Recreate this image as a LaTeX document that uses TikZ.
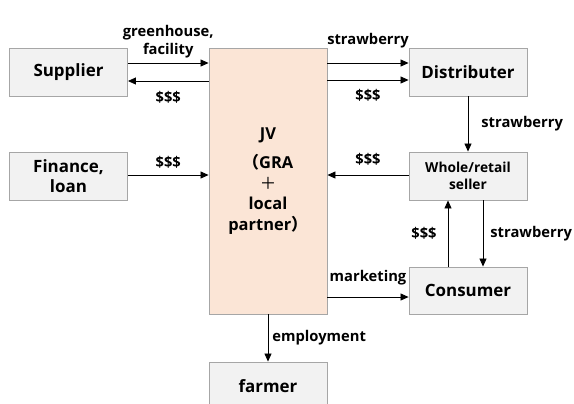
\documentclass[tikz,border=0pt]{standalone}
\usepackage{fontspec}
\setmainfont{Open Sans}
\newfontfamily\cjk{Noto Sans CJK JP}
\usetikzlibrary{arrows.meta}
\definecolor{boxfill}{HTML}{F2F2F2}
\definecolor{boxline}{HTML}{A6A6A6}
\definecolor{jvfill}{HTML}{FBE5D6}
\begin{document}
\begin{tikzpicture}[x=1bp,y=-1bp,
  box/.style={draw=boxline, fill=boxfill, line width=0.9bp,
    minimum width=118bp, minimum height=48bp, inner sep=0pt, align=center,
    font=\bfseries\fontsize{17}{20}\selectfont},
  lbl/.style={font=\bfseries\fontsize{14.8}{18}\selectfont, inner sep=2bp, align=center},
  arr/.style={-{Triangle[length=8bp,width=7bp]}, line width=0.8bp}]
\useasboundingbox (0,0) rectangle (574,403);

% parties
\node[box] (sup) at (68.5,72) {Supplier};
\node[box] (fin) at (68.5,176) {Finance,\\loan};
\node[box, fill=jvfill, minimum height=266bp, font=\bfseries\fontsize{16.5}{20.5}\selectfont]
  (jv) at (268,181) {JV\\[9bp]{\cjk （}GRA\\{\cjk\mdseries ＋}\\local\\partner{\cjk ）}};
\node[box] (dist) at (468,72) {Distributer};
\node[box, font=\bfseries\fontsize{13.8}{16.5}\selectfont] (ws) at (468,176) {Whole/retail\\seller};
\node[box, minimum height=47bp] (cons) at (468,290.5) {Consumer};
\node[box] (farm) at (268,386) {farmer};

% flows between supplier / finance and the JV
\draw[arr] ([yshift=9bp]sup.east) -- ([yshift=9bp]sup.east -| jv.west)
  node[lbl, midway, yshift=21.5bp] {greenhouse,\\facility};
\draw[arr] ([yshift=-9bp]sup.east -| jv.west) -- ([yshift=-9bp]sup.east)
  node[lbl, midway, yshift=-16bp] {\$\$\$};
\draw[arr] ([yshift=1bp]fin.east) -- ([yshift=1bp]fin.east -| jv.west)
  node[lbl, midway, yshift=13bp] {\$\$\$};

% flows between the JV and the distribution chain
\draw[arr] ([yshift=9bp]dist.west -| jv.east) -- ([yshift=9bp]dist.west)
  node[lbl, midway, yshift=22bp] {strawberry};
\draw[arr] ([yshift=-8bp]dist.west -| jv.east) -- ([yshift=-8bp]dist.west)
  node[lbl, midway, yshift=-15bp] {\$\$\$};
\draw[arr] (dist.south) -- (ws.north)
  node[lbl, midway, right=11bp] {strawberry};
\draw[arr] ([yshift=1bp]ws.west) -- ([yshift=1bp]ws.west -| jv.east)
  node[lbl, midway, yshift=16bp] {\$\$\$};
\draw[arr] ([xshift=-20bp]cons.north) -- ([xshift=-20bp]ws.south)
  node[lbl, midway, left=9bp] {\$\$\$};
\draw[arr] ([xshift=15bp]ws.south) -- ([xshift=15bp]cons.north)
  node[lbl, midway, right=5bp] {strawberry};
\draw[arr] ([yshift=-6.5bp]cons.west -| jv.east) -- ([yshift=-6.5bp]cons.west)
  node[lbl, midway, yshift=19bp] {marketing};
\draw[arr] (jv.south) -- (farm.north)
  node[lbl, midway, right=2bp] {employment};
\end{tikzpicture}
\end{document}
